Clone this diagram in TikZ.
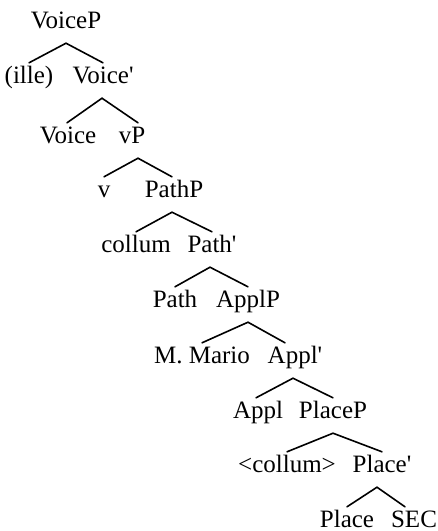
\documentclass[tikz,border=0pt]{standalone}
\usepackage{fontspec}
\setmainfont{Liberation Serif}

\begin{document}
\begin{tikzpicture}[
	x=1pt, y=-1pt,
	lbl/.style={anchor=base, inner sep=0pt, text height=20pt, text depth=15pt, font=\fontsize{25}{29}\selectfont},
	branch/.style={draw=black, line width=1.6pt, line cap=round},
	]
	\useasboundingbox (0,0) rectangle (438,531);
	% labels, row by row
	\node[lbl] (voicep) at (66,28) {VoiceP};
	\node[lbl] (ille) at (29,83) {(ille)};
	\node[lbl] (voicebar) at (103,83) {Voice\textquotesingle};
	\node[lbl] (voice) at (68,143) {Voice};
	\node[lbl] (vp) at (132,143) {vP};
	\node[lbl] (v) at (104,197) {v};
	\node[lbl] (pathp) at (174,197) {PathP};
	\node[lbl] (collum) at (136,252) {collum};
	\node[lbl] (pathbar) at (212,252) {Path\textquotesingle};
	\node[lbl] (path) at (175,307) {Path};
	\node[lbl] (applp) at (248,307) {ApplP};
	\node[lbl] (mario) at (202,363) {M. Mario};
	\node[lbl] (applbar) at (295,363) {Appl\textquotesingle};
	\node[lbl] (appl) at (258,418) {Appl};
	\node[lbl] (placep) at (333,418) {PlaceP};
	\node[lbl] (collumcopy) at (287,472) {<collum>};
	\node[lbl] (placebar) at (382,472) {Place\textquotesingle};
	\node[lbl] (place) at (347,527) {Place};
	\node[lbl] (sec) at (414,527) {SEC};
	% branches
	\draw[branch] (ille.north) -- (voicep.south) -- (voicebar.north);
	\draw[branch] ([xshift=-1pt]voice.north) -- ([xshift=-1pt]voicebar.south) -- ([xshift=6pt]vp.north);
	\draw[branch] (v.north) -- ([xshift=6pt]vp.south) -- ([xshift=-2pt]pathp.north);
	\draw[branch] (collum.north) -- ([xshift=-2pt]pathp.south) -- (pathbar.north);
	\draw[branch] (path.north) -- ([xshift=-2pt]pathbar.south) -- (applp.north);
	\draw[branch] (mario.north) -- (applp.south) -- ([xshift=-10pt]applbar.north);
	\draw[branch] ([xshift=-2pt]appl.north) -- ([xshift=-2pt]applbar.south) -- (placep.north);
	\draw[branch] (collumcopy.north) -- (placep.south) -- (placebar.north);
	\draw[branch] (place.north) -- ([xshift=-5pt]placebar.south) -- ([xshift=-9pt]sec.north);
\end{tikzpicture}
\end{document}
